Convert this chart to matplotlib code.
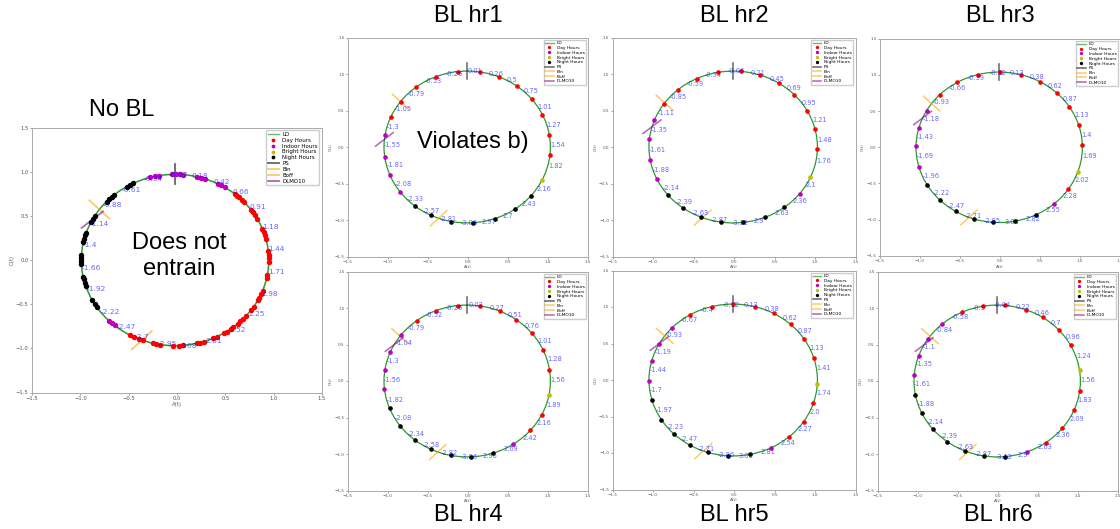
import numpy as np
import matplotlib
matplotlib.use("Agg")
import matplotlib.pyplot as plt
from matplotlib.patches import Circle
from matplotlib.lines import Line2D

W, H = 1120, 529
GREEN = "#2e9a2e"
BIG = ["Liberation Sans", "DejaVu Sans"]

# ---------------------------------------------------------------- data
# phase labels (rad, clockwise from the top of the limit cycle)
NOBL_LABELS = [-0.07, 0.18, 0.42, 0.66, 0.91, 1.18, 1.44, 1.71, 1.98, 2.25, 2.52, 2.81,
               3.08, -2.95, -2.7, -2.47, -2.22, -1.92, -1.66, -1.4, -1.14, -0.88, -0.61, -0.34]
# no-BL run: many cycles, so several dots per hour
NOBL_DAY = [0.69, 0.72, 0.75, 0.8, 0.83, 0.95, 0.98, 1.02, 1.07, 1.2, 1.24, 1.28, 1.32,
            1.47, 1.51, 1.55, 1.59, 1.75, 1.78, 1.94, 1.98, 2.03, 2.06, 2.15, 2.19, 2.29,
            2.33, 2.37, 2.41, 2.47, 2.5, 2.56, 2.59, 2.68, 2.72, 2.83, 2.87, 2.91, 3.06,
            3.1, -3.12, -2.98, -2.94, -2.9, -2.79, -2.75, -2.69, -2.64]
NOBL_INDOOR = [-0.27, -0.22, -0.17, -0.03, 0.01, 0.05, 0.09, 0.24, 0.28, 0.33, 0.47,
               0.51, 0.56, -2.44, -2.4, -2.36]
NOBL_NIGHT = [-2.15, -2.11, -2.06, -1.88, -1.84, -1.8, -1.77, -1.62, -1.58, -1.55, -1.51,
              -1.36, -1.32, -1.28, -1.25, -1.11, -1.07, -1.03, -0.82, -0.78, -0.74, -0.71,
              -0.54, -0.5, -0.46]
NOBL_MARKS = {"PS": 0.0, "Bin": -0.94, "Boff": -2.78, "DLMO10": -1.08}

HR1_LABELS = [0.01, 0.26, 0.5, 0.75, 1.01, 1.27, 1.54, 1.82, 2.16, 2.43, 2.7, 2.97,
              -3.06, -2.81, -2.57, -2.33, -2.08, -1.81, -1.55, -1.3, -1.05, -0.79, -0.53, -0.26]
HR1_DOTS = [0.15, 0.39, 0.64, 0.89, 1.13, 1.41, 1.67, 2.02, 2.27, 2.53, 2.8, 3.07,
            -2.95, -2.69, -2.47, -2.2, -1.95, -1.7, -1.41, -1.17, -0.93, -0.66, -0.39, -0.11]
HR1_KINDS = "DDDDDDDBNNNNNNNIIIIDDDDD"
HR1_MARKS = {"PS": 0.0, "Bin": -0.93, "Boff": -2.79, "DLMO10": -1.47}

HR2_LABELS = [-0.06, 0.21, 0.45, 0.69, 0.95, 1.21, 1.48, 1.76, 2.1, 2.36, 2.63, 2.9,
              -3.12, -2.87, -2.63, -2.39, -2.14, -1.88, -1.61, -1.35, -1.11, -0.85, -0.59, -0.34]
HR2_DOTS = [0.09, 0.33, 0.57, 0.81, 1.07, 1.33, 1.6, 1.98, 2.23, 2.49, 2.76, 3.03,
            -3.0, -2.75, -2.51, -2.26, -2.0, -1.74, -1.47, -1.21, -0.97, -0.72, -0.45, -0.18]
HR2_KINDS = "DDDDDDDBINNNNNNNIIIIDDDD"
HR2_MARKS = {"PS": 0.0, "Bin": -0.95, "Boff": -2.77, "DLMO10": -1.3}

HR3_LABELS = [-0.12, 0.13, 0.38, 0.62, 0.87, 1.13, 1.4, 1.69, 2.02, 2.28, 2.55, 2.82,
              3.08, -2.95, -2.71, -2.47, -2.22, -1.96, -1.69, -1.43, -1.18, -0.93, -0.66, -0.39]
HR3_DOTS = [0.01, 0.26, 0.51, 0.76, 1.0, 1.27, 1.54, 1.9, 2.16, 2.42, 2.69, 2.95,
            -3.07, -2.83, -2.59, -2.35, -2.09, -1.83, -1.56, -1.31, -1.06, -0.8, -0.53, -0.26]
HR3_KINDS = "DDDDDDDBDINNNNNNNIIIIDDD"
HR3_MARKS = {"PS": 0.0, "Bin": -0.95, "Boff": -2.77, "DLMO10": -1.17}

HR4_LABELS = [0.02, 0.27, 0.51, 0.76, 1.01, 1.28, 1.56, 1.89, 2.16, 2.42, 2.69, 2.96,
              -3.06, -2.82, -2.58, -2.34, -2.08, -1.82, -1.56, -1.3, -1.04, -0.79, -0.52, -0.26]
HR4_DOTS = [0.15, 0.4, 0.63, 0.89, 1.15, 1.42, 1.76, 2.03, 2.28, 2.56, 2.82, 3.09,
            -2.94, -2.69, -2.46, -2.2, -1.94, -1.68, -1.43, -1.18, -0.92, -0.65, -0.39, -0.11]
HR4_KINDS = "DDDDDDBDDINNNNNNNIIIIDDD"
HR4_MARKS = {"PS": 0.0, "Bin": -0.94, "Boff": -2.78, "DLMO10": -1.07}

HR5_LABELS = [-0.12, 0.13, 0.38, 0.62, 0.87, 1.13, 1.41, 1.74, 2.0, 2.27, 2.54, 2.81,
              3.08, -2.96, -2.71, -2.47, -2.23, -1.97, -1.7, -1.44, -1.19, -0.93, -0.67, -0.4]
HR5_DOTS = [0.0, 0.26, 0.5, 0.75, 1.0, 1.27, 1.63, 1.88, 2.15, 2.42, 2.68, 2.94,
            -3.08, -2.84, -2.6, -2.36, -2.12, -1.84, -1.58, -1.32, -1.07, -0.81, -0.54, -0.26]
HR5_KINDS = "DDDDDDBDDDINNNNNNNIIIIDD"
HR5_MARKS = {"PS": 0.0, "Bin": -0.95, "Boff": -2.78, "DLMO10": -1.07}

HR6_LABELS = [-0.04, 0.22, 0.46, 0.7, 0.96, 1.24, 1.56, 1.83, 2.09, 2.36, 2.63, 2.9,
              -3.12, -2.87, -2.63, -2.39, -2.14, -1.88, -1.61, -1.35, -1.1, -0.84, -0.58, -0.3]
HR6_DOTS = [0.09, 0.35, 0.58, 0.84, 1.08, 1.43, 1.7, 1.96, 2.24, 2.52, 2.78, 3.05,
            -2.98, -2.74, -2.5, -2.26, -2.01, -1.75, -1.49, -1.24, -0.98, -0.72, -0.44, -0.17]
HR6_KINDS = "DDDDDBDDDDINNNNNNNIIIIDD"
HR6_MARKS = {"PS": 0.0, "Bin": -0.94, "Boff": -2.78, "DLMO10": -1.07}

KINDS = [("D", "Day Hours", "red"), ("I", "Indoor Hours", "m"),
         ("B", "Bright Hours", "y"), ("N", "Night Hours", "k")]
# name -> (direction in degrees, length, colour)
MARK_STYLE = {"PS": (90, 0.23, "k"), "Bin": (-45, 0.29, "orange"),
              "Boff": (45, 0.29, "orange"), "DLMO10": (40, 0.29, "purple")}


def split(dots, kinds):
    out = {k: [] for k, _, _ in KINDS}
    for p, k in zip(dots, kinds):
        out[k].append(p)
    return out


def add_ax(fig, x0, y0, x1, y1):
    return fig.add_axes([x0 / W, 1 - y1 / H, (x1 - x0) / W, (y1 - y0) / H])


def panel(ax, labels, dots, marks, cx, r, big=False):
    fs_lab, ms, fs_leg, fs_tick, lw = (5.4, 2.9, 4.0, 3.8, 1.1) if big else (4.8, 2.3, 3.2, 3.0, 0.9)
    ax.set_xlim(-1.5, 1.5); ax.set_ylim(-1.5, 1.5)
    ax.add_patch(Circle((cx, 0), r, fill=False, edgecolor=GREEN, lw=lw, zorder=1))
    handles = [Line2D([], [], color=GREEN, alpha=0.7, lw=1.0, label="LD")]
    for k, name, col in KINDS:
        ph = np.asarray(dots.get(k, []), dtype=float)
        h, = ax.plot(cx + r * np.sin(ph), r * np.cos(ph), "o", color=col, ms=ms,
                     ls="none", zorder=3, label=name)
        handles.append(h)
    for v in labels:
        ax.text(cx + r * np.sin(v), r * np.cos(v), str(v), color="blue", alpha=0.6,
                fontsize=fs_lab, ha="left", va="center", zorder=4)
    for name, phi in marks.items():
        ang, ln, col = MARK_STYLE[name]
        px, py = cx + r * np.sin(phi), r * np.cos(phi)
        dx, dy = np.cos(np.radians(ang)) * ln / 2, np.sin(np.radians(ang)) * ln / 2
        h, = ax.plot([px - dx, px + dx], [py - dy, py + dy], color=col, alpha=0.6,
                     lw=lw + 0.2, zorder=2, label=name)
        handles.append(h)
    ax.legend(handles=handles, loc="upper right", fontsize=fs_leg, labelspacing=0.15,
              borderpad=0.3, handlelength=2.0, handletextpad=0.6, framealpha=1,
              markerscale=0.6, edgecolor="#cccccc", fancybox=big)
    ax.set_xticks([-1.5, -1.0, -0.5, 0.0, 0.5, 1.0, 1.5])
    ax.set_yticks([-1.5, -1.0, -0.5, 0.0, 0.5, 1.0, 1.5])
    ax.tick_params(labelsize=fs_tick, length=1.5, width=0.4, pad=1, colors="#555555")
    ax.set_xlabel("A(t)", fontsize=fs_tick, labelpad=1, color="#555555")
    ax.set_ylabel("C(t)", fontsize=fs_tick, labelpad=1, color="#555555")
    for s in ax.spines.values():
        s.set_color("#aaaaaa"); s.set_linewidth(0.7)


fig = plt.figure(figsize=(W / 100, H / 100), dpi=100)

ax = add_ax(fig, 32, 127.5, 322, 392.5)
panel(ax, NOBL_LABELS, {"D": NOBL_DAY, "I": NOBL_INDOOR, "N": NOBL_NIGHT}, NOBL_MARKS,
      -0.02, 0.97, big=True)

rects = [(348, 37.5, 588, 256.5), (612.5, 37.5, 855.5, 256.5), (880, 38.8, 1120, 255.8),
         (348, 271.5, 588, 490.5), (612.5, 270.5, 855.5, 489.5), (878, 271.5, 1118, 490.5)]
runs = [(HR1_LABELS, HR1_DOTS, HR1_KINDS, HR1_MARKS), (HR2_LABELS, HR2_DOTS, HR2_KINDS, HR2_MARKS),
        (HR3_LABELS, HR3_DOTS, HR3_KINDS, HR3_MARKS), (HR4_LABELS, HR4_DOTS, HR4_KINDS, HR4_MARKS),
        (HR5_LABELS, HR5_DOTS, HR5_KINDS, HR5_MARKS), (HR6_LABELS, HR6_DOTS, HR6_KINDS, HR6_MARKS)]
for rect, (lab, dots, kinds, marks) in zip(rects, runs):
    panel(add_ax(fig, *rect), lab, split(dots, kinds), marks, -0.01, 1.04)


def ftext(x, y, s):
    fig.text(x / W, 1 - y / H, s, ha="center", va="center", fontsize=17, family=BIG)


ftext(122, 110, "No BL")
ftext(179, 256, "Does not\nentrain")
ftext(473, 142, "Violates b)")
for x, y, s in [(468, 16, "BL hr1"), (734, 16, "BL hr2"), (1000, 16, "BL hr3"),
                (468, 515, "BL hr4"), (734, 515, "BL hr5"), (998, 515, "BL hr6")]:
    ftext(x, y, s)

fig.savefig("out.png", dpi=100)
